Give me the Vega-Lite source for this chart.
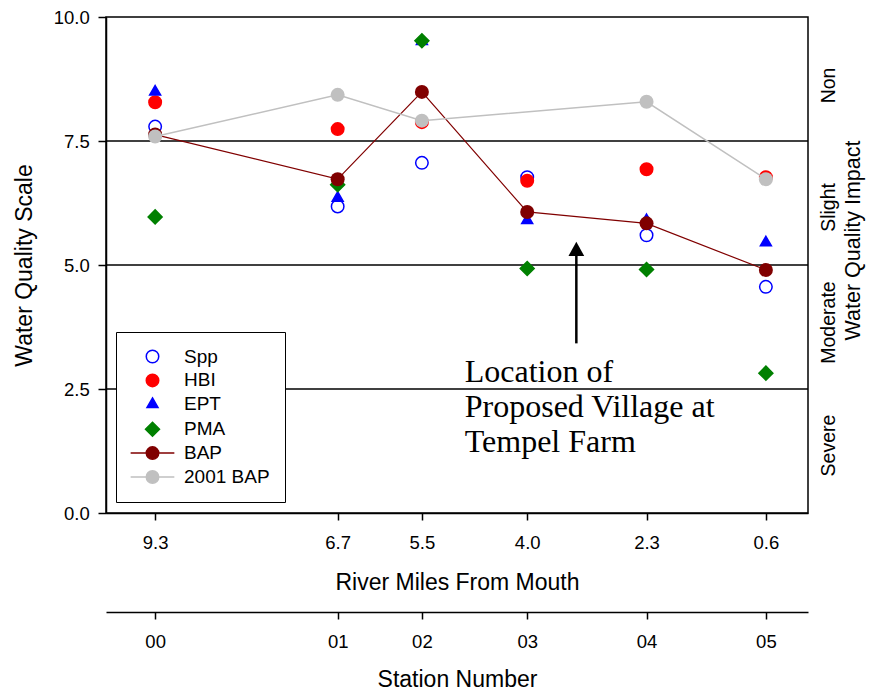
{
  "$schema": "https://vega.github.io/schema/vega-lite/v6.json",
  "width": 702,
  "height": 496,
  "autosize": {"type": "none"},
  "padding": {"left": 106, "top": 17, "right": 62, "bottom": 179},
  "background": "white",
  "config": {
    "view": {"stroke": "black", "strokeWidth": 1.5},
    "font": "Liberation Sans",
    "axis": {
      "grid": false,
      "labelColor": "black",
      "titleColor": "black",
      "domainColor": "black",
      "tickColor": "black",
      "labelFont": "Liberation Sans",
      "titleFont": "Liberation Sans",
      "titleFontWeight": "normal",
      "domainWidth": 1.5,
      "tickWidth": 1.5,
      "labelFontSize": 18.5,
      "titleFontSize": 23,
      "labelFlush": false,
      "labelOverlap": false
    }
  },
  "datasets": {
    "pts": [
      {"series": "Spp", "mile": 9.3, "value": 7.79},
      {"series": "Spp", "mile": 6.7, "value": 6.18},
      {"series": "Spp", "mile": 5.5, "value": 7.06},
      {"series": "Spp", "mile": 4.0, "value": 6.77},
      {"series": "Spp", "mile": 2.3, "value": 5.60},
      {"series": "Spp", "mile": 0.6, "value": 4.56},
      {"series": "HBI", "mile": 9.3, "value": 8.28},
      {"series": "HBI", "mile": 6.7, "value": 7.74},
      {"series": "HBI", "mile": 5.5, "value": 7.88},
      {"series": "HBI", "mile": 4.0, "value": 6.70},
      {"series": "HBI", "mile": 2.3, "value": 6.93},
      {"series": "HBI", "mile": 0.6, "value": 6.77},
      {"series": "EPT", "mile": 9.3, "value": 8.49},
      {"series": "EPT", "mile": 6.7, "value": 6.35},
      {"series": "EPT", "mile": 5.5, "value": 9.51},
      {"series": "EPT", "mile": 4.0, "value": 5.90},
      {"series": "EPT", "mile": 2.3, "value": 5.90},
      {"series": "EPT", "mile": 0.6, "value": 5.45},
      {"series": "PMA", "mile": 9.3, "value": 5.97},
      {"series": "PMA", "mile": 6.7, "value": 6.62},
      {"series": "PMA", "mile": 5.5, "value": 9.52},
      {"series": "PMA", "mile": 4.0, "value": 4.93},
      {"series": "PMA", "mile": 2.3, "value": 4.91},
      {"series": "PMA", "mile": 0.6, "value": 2.82},
      {"series": "BAP", "mile": 9.3, "value": 7.63},
      {"series": "BAP", "mile": 6.7, "value": 6.73},
      {"series": "BAP", "mile": 5.5, "value": 8.49},
      {"series": "BAP", "mile": 4.0, "value": 6.07},
      {"series": "BAP", "mile": 2.3, "value": 5.84},
      {"series": "BAP", "mile": 0.6, "value": 4.90},
      {"series": "2001 BAP", "mile": 9.3, "value": 7.59},
      {"series": "2001 BAP", "mile": 6.7, "value": 8.43},
      {"series": "2001 BAP", "mile": 5.5, "value": 7.91},
      {"series": "2001 BAP", "mile": 2.3, "value": 8.29},
      {"series": "2001 BAP", "mile": 0.6, "value": 6.73}
    ]
  },
  "resolve": {"axis": {"x": "independent", "y": "independent"}},
  "layer": [
    {
      "data": {"values": [{"level": 7.5}, {"level": 5.0}, {"level": 2.5}]},
      "mark": {"type": "rule", "color": "black", "strokeWidth": 1.5},
      "encoding": {
        "y": {"field": "level", "type": "quantitative", "scale": {"domain": [0, 10], "nice": false}, "axis": null}
      }
    },
    {
      "data": {"name": "pts"},
      "transform": [{"filter": "datum.series !== 'BAP' && datum.series !== '2001 BAP'"}],
      "mark": {"type": "point", "opacity": 1, "strokeWidth": 1.5, "size": 156},
      "encoding": {
        "x": {
          "field": "mile", "type": "quantitative",
          "scale": {"domain": [0, 10], "reverse": true, "nice": false, "zero": false},
          "axis": {"orient": "bottom", "title": "River Miles From Mouth", "values": [9.3, 6.7, 5.5, 4, 2.3, 0.6], "format": ".1f", "tickSize": 7, "labelPadding": 13.7, "titlePadding": 19.6}
        },
        "y": {
          "field": "value", "type": "quantitative",
          "scale": {"domain": [0, 10], "nice": false},
          "axis": {"orient": "left", "title": "Water Quality Scale", "values": [0, 2.5, 5, 7.5, 10], "format": ".1f", "tickSize": 8, "labelPadding": 8.7, "titlePadding": 17}
        },
        "stroke": {
          "field": "series", "type": "nominal",
          "scale": {"domain": ["Spp", "HBI", "EPT", "PMA", "BAP", "2001 BAP"], "range": ["#0000FF", "#FF0000", "#0000FF", "#008000", "#800000", "#C0C0C0"]},
          "legend": {
            "title": null,
            "orient": "none",
            "legendX": 10,
            "legendY": 315,
            "padding": 15,
            "strokeColor": "black",
            "fillColor": "white",
            "symbolSize": 156,
            "symbolStrokeWidth": 1.5,
            "symbolOffset": 12,
            "labelOffset": 22,
            "rowPadding": 3.9,
            "labelFontSize": 19,
            "labelFont": "Liberation Sans",
            "labelColor": "black"
          }
        },
        "fill": {
          "field": "series", "type": "nominal",
          "scale": {"domain": ["Spp", "HBI", "EPT", "PMA", "BAP", "2001 BAP"], "range": ["transparent", "#FF0000", "#0000FF", "#008000", "#800000", "#C0C0C0"]}
        },
        "shape": {
          "field": "series", "type": "nominal",
          "scale": {"domain": ["Spp", "HBI", "EPT", "PMA", "BAP", "2001 BAP"], "range": ["circle", "circle", "M0,-1.016L0.88,0.508L-0.88,0.508Z", "M0,-1.12L1.12,0L0,1.12L-1.12,0Z", "M-3.5,0L3.5,0M1,0A1,1,0,1,1,-1,0A1,1,0,1,1,1,0Z", "M-3.5,0L3.5,0M1,0A1,1,0,1,1,-1,0A1,1,0,1,1,1,0Z"]}
        }
      }
    },
    {
      "data": {"name": "pts"},
      "transform": [{"filter": "datum.series === 'BAP'"}],
      "mark": {"type": "line", "color": "#800000", "strokeWidth": 1.2, "point": {"filled": true, "size": 196, "color": "#800000", "opacity": 1}},
      "encoding": {
        "x": {"field": "mile", "type": "quantitative", "scale": {"domain": [0, 10], "reverse": true, "nice": false, "zero": false}, "axis": null},
        "y": {"field": "value", "type": "quantitative", "scale": {"domain": [0, 10], "nice": false}, "axis": null}
      }
    },
    {
      "data": {"name": "pts"},
      "transform": [{"filter": "datum.series === '2001 BAP'"}],
      "mark": {"type": "line", "color": "#C0C0C0", "strokeWidth": 1.5, "point": {"filled": true, "size": 196, "color": "#C0C0C0", "opacity": 1}},
      "encoding": {
        "x": {"field": "mile", "type": "quantitative", "scale": {"domain": [0, 10], "reverse": true, "nice": false, "zero": false}, "axis": null},
        "y": {"field": "value", "type": "quantitative", "scale": {"domain": [0, 10], "nice": false}, "axis": null}
      }
    },
    {
      "data": {"values": [{"mile": 3.3, "lo": 3.42, "hi": 5.3}]},
      "mark": {"type": "rule", "color": "black", "strokeWidth": 2.5},
      "encoding": {
        "x": {
          "field": "mile", "type": "quantitative",
          "scale": {"domain": [0, 10], "reverse": true, "nice": false, "zero": false},
          "axis": {"orient": "bottom", "offset": 99, "title": "Station Number", "values": [9.3, 6.7, 5.5, 4, 2.3, 0.6], "labelExpr": "datum.value == 9.3 ? '00' : datum.value == 6.7 ? '01' : datum.value == 5.5 ? '02' : datum.value == 4 ? '03' : datum.value == 2.3 ? '04' : '05'", "tickSize": 7, "labelPadding": 13.7, "titlePadding": 17.6}
        },
        "y": {
          "field": "lo", "type": "quantitative",
          "scale": {"domain": [0, 10], "nice": false},
          "axis": {"orient": "right", "title": "Water Quality Impact", "values": [8.63, 6.17, 3.85, 1.37], "labelExpr": "datum.value > 8 ? 'Non' : datum.value > 6 ? 'Slight' : datum.value > 3 ? 'Moderate' : 'Severe'", "labelAngle": 270, "labelAlign": "center", "labelBaseline": "top", "labelFontSize": 19.5, "ticks": false, "tickSize": 0, "domain": false, "labelPadding": 11, "titleAngle": 270, "titleBaseline": "top", "titlePadding": 5, "titleFontSize": 21.5, "titleY": 223}
        },
        "y2": {"field": "hi"}
      }
    },
    {
      "data": {"values": [{"mile": 3.3, "value": 5.47}]},
      "mark": {"type": "point", "shape": "M0,0L0.55,1L-0.55,1Z", "size": 818, "filled": true, "color": "black", "opacity": 1},
      "encoding": {
        "x": {"field": "mile", "type": "quantitative", "scale": {"domain": [0, 10], "reverse": true, "nice": false, "zero": false}, "axis": null},
        "y": {"field": "value", "type": "quantitative", "scale": {"domain": [0, 10], "nice": false}, "axis": null}
      }
    },
    {
      "data": {"values": [{"mile": 4.89, "value": 2.647, "label": "Location of\nProposed Village at\nTempel Farm"}]},
      "mark": {"type": "text", "font": "Liberation Serif", "fontSize": 32, "align": "left", "baseline": "alphabetic", "lineBreak": "\n", "lineHeight": 35, "color": "black"},
      "encoding": {
        "x": {"field": "mile", "type": "quantitative", "scale": {"domain": [0, 10], "reverse": true, "nice": false, "zero": false}, "axis": null},
        "y": {"field": "value", "type": "quantitative", "scale": {"domain": [0, 10], "nice": false}, "axis": null},
        "text": {"field": "label"}
      }
    }
  ]
}
